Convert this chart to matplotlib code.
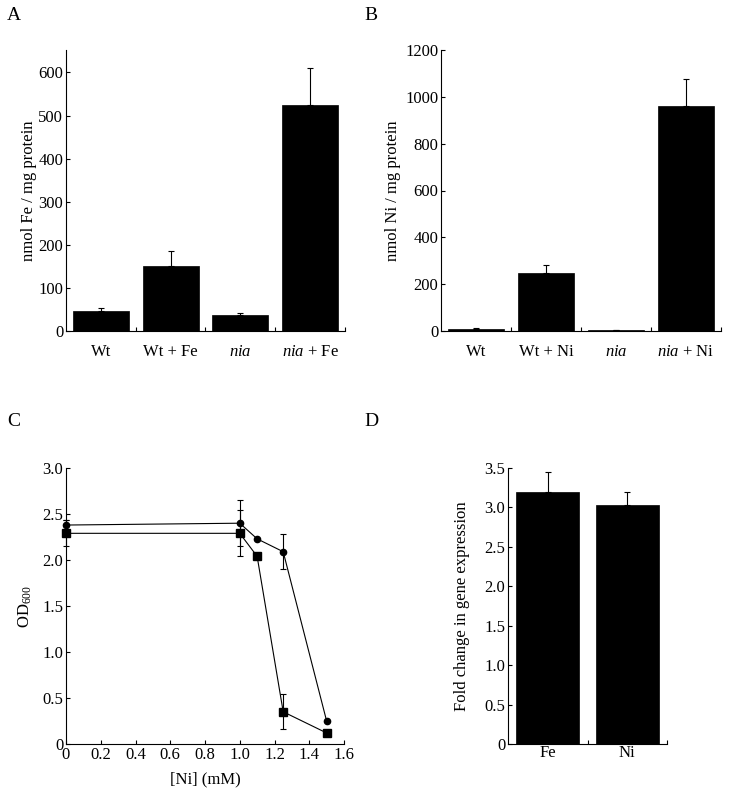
import matplotlib
matplotlib.use("Agg")
import matplotlib.pyplot as plt
import numpy as np

plt.rcParams['font.family'] = ['Liberation Serif', 'DejaVu Serif']
plt.rcParams['mathtext.fontset'] = 'custom'
plt.rcParams['mathtext.rm'] = 'Liberation Serif'
plt.rcParams['mathtext.it'] = 'Liberation Serif:italic'
plt.rcParams['font.size'] = 12

# --- Panel A: Fe content ---
fe_labels = ['Wt', 'Wt + Fe', r'$\it{nia}$', r'$\it{nia}$ + Fe']
fe_values = [46, 151, 38, 524]
fe_errors = [8, 34, 3, 86]

# --- Panel B: Ni content ---
ni_labels = ['Wt', 'Wt + Ni', r'$\it{nia}$', r'$\it{nia}$ + Ni']
ni_values = [10, 248, 3, 960]
ni_errors = [3, 32, 3, 115]

# --- Panel C: growth vs Ni ---
ni_conc = [0, 1.0, 1.1, 1.25, 1.5]
od_circle = [2.38, 2.40, 2.23, 2.09, 0.25]
od_circle_err = [0.05, 0.25, 0.0, 0.19, 0.0]
od_square = [2.29, 2.29, 2.04, 0.35, 0.12]
od_square_err = [0.14, 0.25, 0.0, 0.19, 0.0]

# --- Panel D: fold change ---
fold_labels = ['Fe', 'Ni']
fold_values = [3.20, 3.03]
fold_errors = [0.25, 0.17]

W, H = 729, 795
fig = plt.figure(figsize=(W / 100, H / 100), dpi=100)


def ax_px(left, top, right, bottom):
    return fig.add_axes([left / W, 1 - bottom / H, (right - left) / W, (bottom - top) / H])


def style(ax):
    for s in ['top', 'right']:
        ax.spines[s].set_visible(False)
    for s in ['left', 'bottom']:
        ax.spines[s].set_linewidth(0.8)
    ax.tick_params(direction='in', length=3, width=0.8)


def bar_panel(ax, labels, values, errors, ymax, yticks, ylabel, width, xpad, lpad):
    n = len(values)
    x = np.arange(n)
    ax.bar(x, values, width=width, color='black', edgecolor='black', linewidth=0.5)
    ax.errorbar(x, values, yerr=[np.zeros(n), errors], fmt='none', ecolor='black',
                elinewidth=0.8, capsize=2.5, capthick=0.8)
    ax.set_xlim(-0.5, n - 0.5)
    ax.set_ylim(0, ymax)
    ax.set_yticks(yticks)
    ax.set_xticks(x)
    ax.set_xticklabels(labels)
    ax.set_xticks(np.arange(n) + 0.5, minor=True)
    style(ax)
    ax.tick_params(axis='x', which='major', length=0, pad=xpad)
    ax.tick_params(axis='x', which='minor', direction='in', length=3, width=0.8)
    ax.tick_params(axis='y', pad=2)
    ax.set_ylabel(ylabel, labelpad=lpad)


axA = ax_px(66, 50, 345, 331)
bar_panel(axA, fe_labels, fe_values, fe_errors, 652, [0, 100, 200, 300, 400, 500, 600],
          'nmol Fe / mg protein', 0.8, 9, 1)

axB = ax_px(441, 50, 721, 331)
bar_panel(axB, ni_labels, ni_values, ni_errors, 1200, [0, 200, 400, 600, 800, 1000, 1200],
          'nmol Ni / mg protein', 0.79, 9, 3)

axC = ax_px(66, 468, 344, 744)
axC.errorbar(ni_conc, od_circle, yerr=od_circle_err, fmt='-o', color='black', ms=4.5,
             lw=0.8, elinewidth=0.8, capsize=2.5, capthick=0.8, clip_on=False)
axC.errorbar(ni_conc, od_square, yerr=od_square_err, fmt='-s', color='black', ms=5.5,
             lw=0.8, elinewidth=0.8, capsize=2.5, capthick=0.8, clip_on=False)
axC.set_xlim(0, 1.6)
axC.set_ylim(0, 3.0)
axC.set_xticks([0, 0.2, 0.4, 0.6, 0.8, 1.0, 1.2, 1.4, 1.6])
axC.set_xticklabels(['0', '0.2', '0.4', '0.6', '0.8', '1.0', '1.2', '1.4', '1.6'])
axC.set_yticks([0, 0.5, 1.0, 1.5, 2.0, 2.5, 3.0])
axC.set_yticklabels(['0', '0.5', '1.0', '1.5', '2.0', '2.5', '3.0'])
style(axC)
axC.tick_params(axis='x', pad=2)
axC.tick_params(axis='y', pad=2)
axC.set_xlabel('[Ni] (mM)', labelpad=6)
axC.set_ylabel(r'OD$_{600}$', labelpad=6)

axD = ax_px(508, 468, 667, 744)
bar_panel(axD, fold_labels, fold_values, fold_errors, 3.5, [0, 0.5, 1.0, 1.5, 2.0, 2.5, 3.0, 3.5],
          'Fold change in gene expression', 0.79, 1, 10)
axD.set_yticklabels(['0', '0.5', '1.0', '1.5', '2.0', '2.5', '3.0', '3.5'])

for lab, x, y in [('A', 7, 16), ('B', 364, 16), ('C', 7, 422), ('D', 364, 422)]:
    fig.text(x / W, 1 - y / H, lab, fontsize=14, ha='left', va='center')

fig.savefig('out.png', dpi=100)
